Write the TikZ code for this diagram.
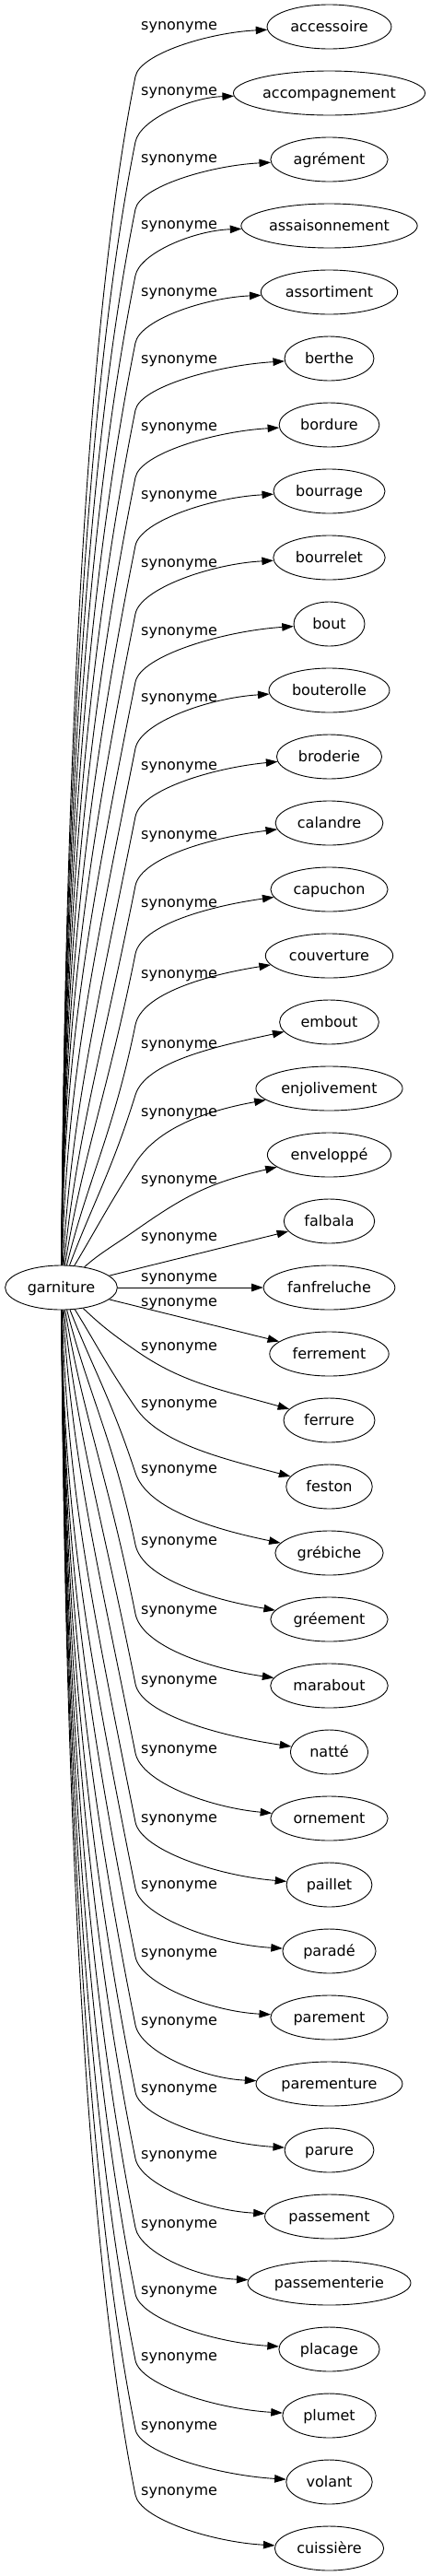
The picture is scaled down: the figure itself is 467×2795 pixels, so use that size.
\documentclass[tikz,border=0pt]{standalone}
\usepackage{fontspec}
\setmainfont{DejaVu Sans}
\usetikzlibrary{arrows.meta,shapes.geometric}
\begin{document}
\begin{tikzpicture}[x=1pt,y=-1pt,
  every node/.style={font=\fontsize{16}{19}\selectfont},
  wnode/.style={draw, ellipse, line width=0.9pt, inner sep=0pt, minimum height=48pt, text height=11.5pt, text depth=0.5pt},
  lab/.style={anchor=base west, inner sep=0pt},
  syn/.style={draw, line width=0.9pt, -{Triangle[length=12.5pt,width=8.5pt]}}]
\fontsize{16}{19}\selectfont
\path[fill=white] (0,0) rectangle (467,2795);
\pgfmathsetmacro\egw{1.21*width("garniture")+33}
\node[wnode, minimum width=\egw pt] (g) at (66.5,1397) {garniture};
\foreach \i/\n/\L in {0/accessoire/28,1/accompagnement/99,2/agrément/172,3/assaisonnement/244,4/assortiment/317,5/berthe/390,6/bordure/463,7/bourrage/537,8/bourrelet/611,9/bout/685,10/bouterolle/757,11/broderie/831,12/calandre/906,13/capuchon/980,14/couverture/1057,15/embout/1133,16/enjolivement/1207,17/enveloppé/1280,18/falbala/1342,19/fanfreluche/1386,20/ferrement/1413,21/ferrure/1461,22/feston/1523,23/grébiche/1594,24/gréement/1672,25/marabout/1747,26/natté/1823,27/ornement/1898,28/paillet/1973,29/paradé/2045,30/parement/2119,31/parementure/2193,32/parure/2266,33/passement/2338,34/passementerie/2413,35/placage/2485,36/plumet/2557,37/volant/2632,38/cuissière/2703}{
  \pgfmathsetmacro\ety{29+72*\i}
  \pgfmathsetmacro\etw{1.21*width("\n")+33}
  \node[wnode, minimum width=\etw pt] (t\i) at (357.5,\ety) {\n};
  \node[lab] (l\i) at (153,\L+4) {synonyme};
  \pgfmathsetmacro\etipx{357.5-\etw/2}
  \pgfmathsetmacro\edT{\etipx-147}
  \pgfmathsetmacro\ekk{0.45*\edT}
  \pgfmathsetmacro\edx{\etipx-\ekk}
  \ifnum\i<18
    \pgfmathsetmacro\eyb{\L+55}
    \pgfmathsetmacro\edd{1373-\eyb}
    \pgfmathsetmacro\ebe{min(1,\edd/600)}
    \pgfmathsetmacro\emm{max(0.7,min(5,(\edd-40)/45))}
    \pgfmathsetmacro\ess{1/\emm}
    \pgfmathsetmacro\ehh{min(0.45*\edd,300)}
    \pgfmathsetmacro\esx{70+25*(1-\ebe)}
    \pgfmathsetmacro\eax{\esx+(1-\ebe)*0.3*(147-\esx)}
    \pgfmathsetmacro\eay{1373-0.35*\edd}
    \pgfmathsetmacro\ebx{147-\ess*\ehh}
    \pgfmathsetmacro\eby{\eyb+\ehh}
    \pgfmathsetmacro\edr{\eyb-\ety}
    \pgfmathsetmacro\evv{0.45*\edr}
    \pgfmathsetmacro\ecx{147+min(\ess*\evv,0.4*\edT)}
    \pgfmathsetmacro\ecy{\eyb-\evv}
    \pgfmathsetmacro\eee{0.1+0.4*(1-\ebe)}
    \pgfmathsetmacro\edy{\ety+\ekk*\eee}
    \coordinate (b\i) at (147,\eyb);
    \draw[syn] (g) .. controls (\eax,\eay) and (\ebx,\eby) .. (b\i) .. controls (\ecx,\ecy) and (\edx,\edy) .. (t\i);
  \else\ifnum\i<21
    \draw[syn] (g) -- (t\i);
  \else
    \pgfmathsetmacro\eyb{\L+4}
    \pgfmathsetmacro\edd{\eyb-1421}
    \pgfmathsetmacro\ebe{min(1,\edd/600)}
    \pgfmathsetmacro\emm{max(0.7,min(5,(\edd-40)/45))}
    \pgfmathsetmacro\ess{1/\emm}
    \pgfmathsetmacro\ehh{min(0.45*\edd,300)}
    \pgfmathsetmacro\esx{70+25*(1-\ebe)}
    \pgfmathsetmacro\eax{\esx+(1-\ebe)*0.3*(147-\esx)}
    \pgfmathsetmacro\eay{1421+0.35*\edd}
    \pgfmathsetmacro\ebx{147-\ess*\ehh}
    \pgfmathsetmacro\eby{\eyb-\ehh}
    \pgfmathsetmacro\edr{\ety-\eyb}
    \pgfmathsetmacro\evv{0.45*\edr}
    \pgfmathsetmacro\ecx{147+min(\ess*\evv,0.4*\edT)}
    \pgfmathsetmacro\ecy{\eyb+\evv}
    \pgfmathsetmacro\eee{0.1+0.4*(1-\ebe)}
    \pgfmathsetmacro\edy{\ety-\ekk*\eee}
    \coordinate (b\i) at (147,\eyb);
    \draw[syn] (g) .. controls (\eax,\eay) and (\ebx,\eby) .. (b\i) .. controls (\ecx,\ecy) and (\edx,\edy) .. (t\i);
  \fi\fi
}
\end{tikzpicture}
\end{document}
